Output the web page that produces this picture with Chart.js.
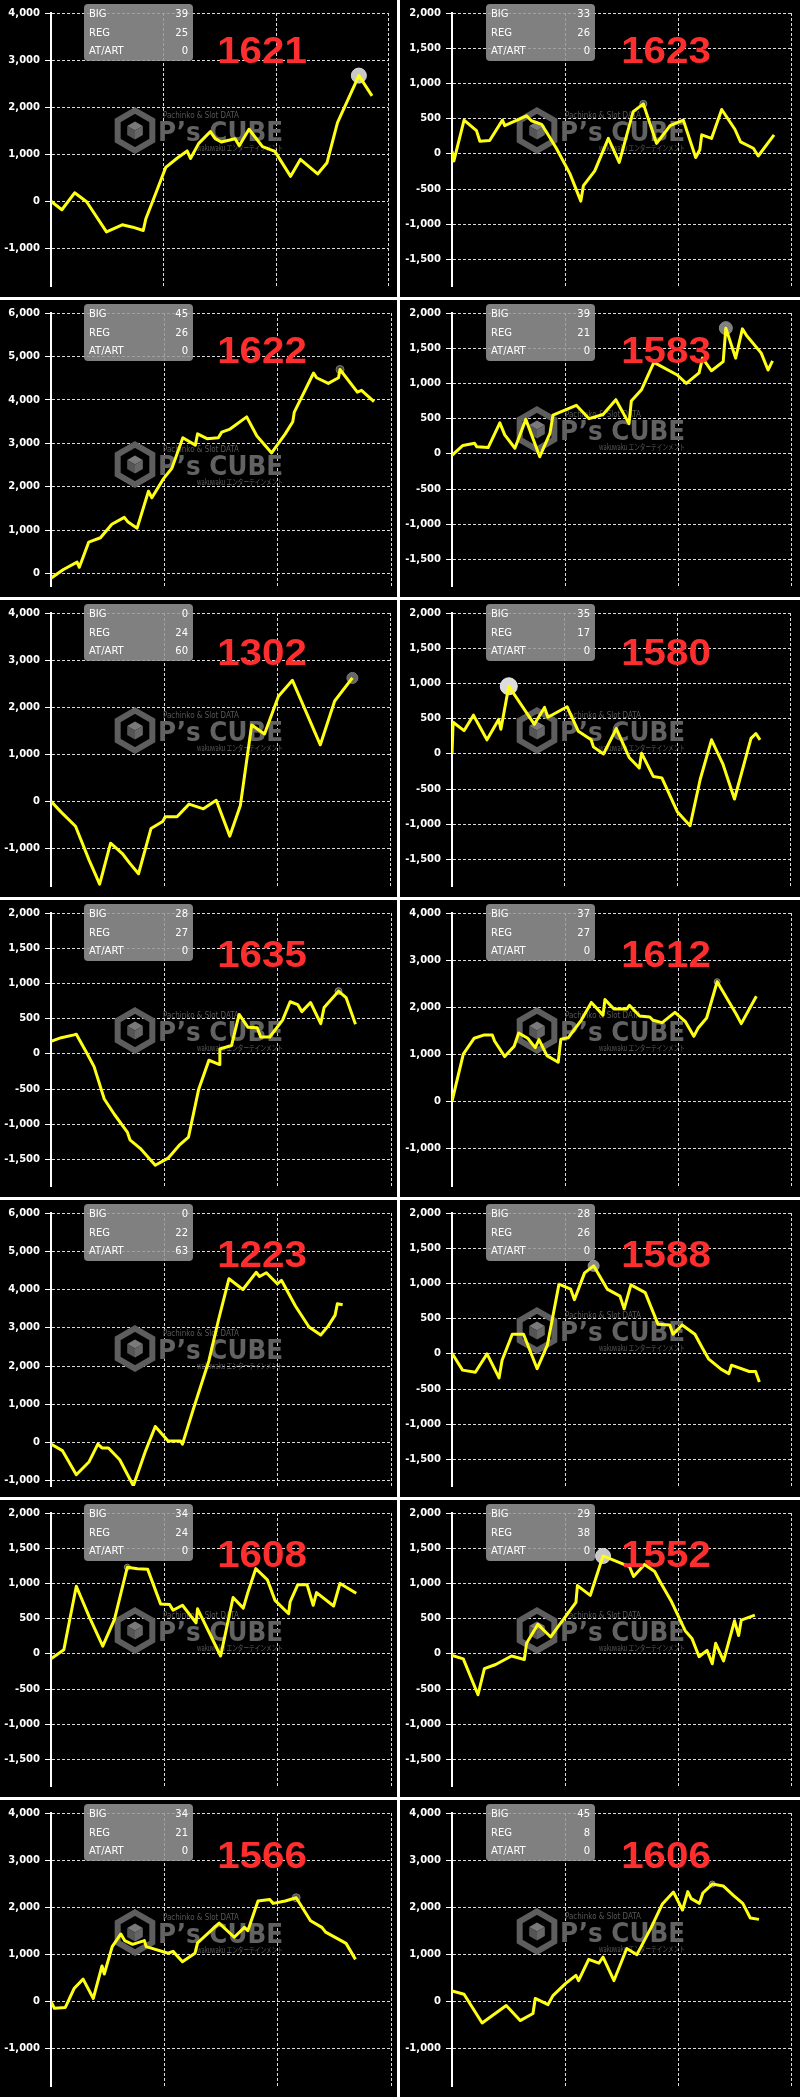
<!DOCTYPE html>
<html>
<head>
<meta charset="utf-8">
<script src="https://cdn.jsdelivr.net/npm/chart.js@4.4.1/dist/chart.umd.min.js"></script>
<style>
  html, body { margin: 0; padding: 0; background: #fff; }
  #grid {
    display: grid;
    grid-template-columns: 397px 400px;
    grid-auto-rows: 297px;
    column-gap: 3px;
    row-gap: 3px;
    width: 800px;
  }
  .cell { background: #000; position: relative; overflow: hidden; }
  canvas { display: block; }
</style>
</head>
<body>
<div id="grid"></div>
<script>
// machine numbers and bonus counts, left to right, top to bottom
const machineNos = ["1621", "1623", "1622", "1583", "1302", "1580", "1635", "1612", "1223", "1588", "1608", "1552", "1566", "1606"];
const bigCounts = [39, 33, 45, 39, 0, 35, 28, 37, 0, 28, 34, 29, 34, 45];
const regCounts = [25, 26, 26, 21, 24, 17, 27, 27, 22, 26, 24, 38, 21, 8];
const artCounts = [0, 0, 0, 0, 60, 0, 0, 0, 63, 0, 0, 0, 0, 0];

// y axis ranges and tick steps
const yMaxes = [4000, 2000, 6000, 2000, 4000, 2000, 2000, 4000, 6000, 2000, 2000, 2000, 4000, 4000];
const ySteps = [1000, 500, 1000, 500, 1000, 500, 500, 1000, 1000, 500, 500, 500, 1000, 1000];
const yMins = [-1800, -1875, -280, -1875, -1800, -1875, -1875, -1800, -1135, -1875, -1875, -1875, -1800, -1800];
const gameMax = 9000;
const gameStep = 3000;

// games played / coin difference per machine
const games1621 = [0, 290, 630, 950, 1480, 1900, 2180, 2460, 2530, 2800, 3060, 3370, 3630, 3720, 3940, 4250, 4380, 4540, 4910, 5020, 5280, 5640, 5970, 6390, 6650, 7110, 7360, 7640, 8210, 8560];
const diff1621 = [0, -180, 180, -10, -650, -500, -550, -620, -370, 180, 720, 920, 1070, 910, 1230, 1480, 1330, 1260, 1330, 1180, 1530, 1160, 1060, 530, 890, 580, 820, 1670, 2670, 2240];

const games1623 = [0, 50, 320, 650, 740, 1000, 1340, 1400, 1980, 2110, 2380, 2770, 3130, 3420, 3490, 3790, 4150, 4440, 4810, 5080, 5430, 5790, 6140, 6470, 6580, 6630, 6890, 7160, 7510, 7660, 8000, 8130, 8550];
const diff1623 = [40, -100, 480, 330, 180, 190, 480, 400, 540, 470, 420, 80, -280, -670, -450, -240, 220, -120, 600, 710, 150, 400, 480, -50, 60, 270, 220, 630, 350, 170, 80, -30, 270];

const games1622 = [0, 330, 690, 750, 1000, 1310, 1610, 1940, 2040, 2280, 2580, 2670, 2980, 3200, 3490, 3820, 3880, 4130, 4430, 4520, 4740, 5180, 5450, 5840, 6200, 6400, 6440, 6950, 7030, 7340, 7610, 7650, 8110, 8220, 8550];
const diff1622 = [-100, 100, 270, 150, 730, 830, 1140, 1300, 1190, 1050, 1900, 1750, 2190, 2430, 3130, 2960, 3220, 3110, 3130, 3260, 3330, 3610, 3170, 2780, 3220, 3500, 3720, 4620, 4510, 4380, 4510, 4700, 4180, 4220, 3960];

const games1583 = [0, 290, 600, 660, 960, 1270, 1400, 1670, 1960, 2330, 2600, 2680, 3300, 3640, 4010, 4350, 4700, 4760, 5030, 5360, 5980, 6220, 6560, 6650, 6890, 7200, 7270, 7530, 7710, 7820, 8210, 8390, 8510];
const diff1583 = [-20, 120, 150, 100, 90, 440, 270, 80, 490, -40, 290, 550, 690, 500, 560, 770, 430, 750, 910, 1300, 1120, 1000, 1150, 1360, 1180, 1310, 1785, 1360, 1775, 1680, 1430, 1190, 1320];

const games1302 = [0, 270, 650, 1010, 1290, 1580, 1890, 2090, 2320, 2650, 2960, 3030, 3340, 3660, 4040, 4380, 4740, 5020, 5320, 5660, 6030, 6400, 7140, 7520, 7990];
const diff1302 = [0, -230, -530, -1250, -1760, -890, -1110, -1320, -1540, -580, -430, -330, -330, -60, -160, 20, -740, -90, 1620, 1430, 2230, 2570, 1200, 2130, 2620];

const games1580 = [0, 30, 320, 570, 930, 1240, 1300, 1510, 2190, 2460, 2550, 3060, 3360, 3700, 3760, 4030, 4370, 4710, 4980, 5040, 5350, 5580, 5990, 6330, 6600, 6900, 7200, 7510, 7950, 8080, 8190];
const diff1580 = [0, 450, 330, 550, 200, 490, 350, 960, 420, 660, 520, 670, 320, 200, 100, 0, 360, -50, -200, 10, -320, -340, -820, -1020, -360, 200, -140, -640, 220, 290, 200];

const games1635 = [0, 270, 610, 670, 940, 1140, 1410, 1680, 2020, 2090, 2360, 2760, 3100, 3390, 3640, 3910, 4180, 4450, 4470, 4780, 4980, 5210, 5460, 5550, 5790, 6130, 6330, 6530, 6640, 6870, 7140, 7230, 7610, 7810, 8060];
const diff1635 = [180, 230, 270, 280, 20, -180, -640, -860, -1110, -1220, -1340, -1580, -1480, -1300, -1180, -500, -90, -150, 70, 120, 560, 380, 370, 240, 240, 480, 740, 700, 600, 730, 430, 660, 890, 800, 420];

const games1612 = [0, 300, 590, 860, 1070, 1130, 1400, 1650, 1770, 2010, 2210, 2310, 2520, 2820, 2890, 3090, 3430, 3700, 4010, 4060, 4300, 4640, 4710, 4980, 5250, 5340, 5580, 5920, 6190, 6420, 6530, 6760, 7040, 7540, 7680, 8080];
const diff1612 = [0, 1000, 1340, 1410, 1410, 1280, 950, 1170, 1450, 1340, 1140, 1310, 970, 830, 1320, 1350, 1720, 2100, 1830, 2160, 1960, 1960, 2040, 1810, 1790, 1720, 1670, 1890, 1700, 1380, 1550, 1770, 2540, 1860, 1650, 2230];

const games1223 = [0, 300, 670, 1010, 1240, 1350, 1520, 1820, 2180, 2490, 2760, 3100, 3430, 3480, 3770, 4180, 4440, 4710, 5080, 5430, 5520, 5700, 5990, 6100, 6470, 6830, 7140, 7340, 7520, 7580, 7720];
const diff1223 = [-40, -210, -840, -500, -40, -140, -140, -450, -1130, -250, 420, 40, 40, -40, 880, 2140, 3230, 4280, 4000, 4450, 4340, 4440, 4150, 4240, 3570, 3020, 2810, 3050, 3330, 3630, 3600];

const games1588 = [0, 280, 620, 930, 1250, 1330, 1600, 1900, 2260, 2530, 2840, 3150, 3250, 3520, 3760, 4120, 4460, 4570, 4750, 5130, 5470, 5780, 5870, 6110, 6450, 6650, 6810, 7150, 7350, 7420, 7890, 8060, 8160];
const diff1588 = [10, -230, -260, 0, -340, -90, 280, 280, -210, 120, 990, 920, 770, 1150, 1250, 920, 820, 640, 980, 870, 420, 410, 280, 410, 280, 80, -70, -220, -280, -160, -250, -250, -400];

const games1608 = [0, 340, 670, 1010, 1370, 1680, 2020, 2290, 2560, 2900, 3140, 3230, 3480, 3840, 3880, 4490, 4820, 5090, 5210, 5420, 5730, 5930, 6290, 6330, 6530, 6780, 6940, 7030, 7480, 7650, 8080];
const diff1608 = [-70, 60, 960, 530, 110, 490, 1230, 1210, 1200, 710, 700, 620, 690, 440, 640, -30, 800, 650, 870, 1210, 1050, 760, 570, 740, 980, 980, 690, 870, 680, 1000, 860];

const games1552 = [0, 300, 690, 860, 1160, 1580, 1920, 1980, 2280, 2620, 2890, 3290, 3330, 3670, 4010, 4710, 4820, 5110, 5380, 5540, 5830, 6190, 6370, 6560, 6770, 6910, 7000, 7210, 7500, 7610, 7680, 8040];
const diff1552 = [-20, -70, -580, -210, -150, -30, -80, 150, 420, 240, 440, 730, 970, 830, 1390, 1240, 1100, 1270, 1170, 1010, 740, 330, 220, -40, 50, -140, 150, -100, 470, 260, 480, 550];

const games1566 = [0, 90, 380, 610, 850, 1120, 1350, 1410, 1620, 1850, 1950, 2160, 2470, 2520, 3100, 3230, 3480, 3810, 3880, 4450, 4850, 5120, 5210, 5480, 5790, 5880, 6200, 6490, 6870, 7170, 7270, 7810, 8060];
const diff1566 = [0, -150, -130, 270, 470, 60, 750, 580, 1160, 1430, 1290, 1210, 1290, 1160, 1020, 1060, 840, 1020, 1240, 1660, 1360, 1570, 1500, 2130, 2160, 2080, 2130, 2200, 1710, 1570, 1470, 1230, 890];

const games1606 = [0, 320, 800, 1440, 1810, 2150, 2210, 2550, 2680, 3020, 3290, 3360, 3630, 3900, 4010, 4300, 4640, 4910, 5290, 5580, 5880, 6120, 6260, 6350, 6570, 6660, 6910, 7200, 7470, 7720, 7920, 8150];
const diff1606 = [220, 150, -460, -90, -410, -260, 60, -70, 120, 380, 550, 440, 890, 810, 940, 440, 1120, 990, 1570, 2060, 2320, 1940, 2330, 2180, 2080, 2300, 2490, 2450, 2250, 2080, 1770, 1740];

const gamesSeries = [games1621, games1623, games1622, games1583, games1302, games1580, games1635, games1612, games1223, games1588, games1608, games1552, games1566, games1606];
const diffSeries = [diff1621, diff1623, diff1622, diff1583, diff1302, diff1580, diff1635, diff1612, diff1223, diff1588, diff1608, diff1552, diff1566, diff1606];

// look of the peak marker per panel
const peakStyles = [
  { r: 7.5, fill: "#c8c8c8", edge: "#d8d8d8" },
  { r: 3.5, fill: "#444", edge: "#888" },
  { r: 4, fill: "#444", edge: "#777" },
  { r: 6.5, fill: "#808080", edge: "#8a8a8a" },
  { r: 5.5, fill: "#666", edge: "#777" },
  { r: 8.5, fill: "#dcdcdc", edge: "#e8e8e8" },
  { r: 3.5, fill: "#444", edge: "#888" },
  { r: 3, fill: "#444", edge: "#888" },
  { r: 0, fill: "#444", edge: "#888" },
  { r: 5.5, fill: "#888", edge: "#999" },
  { r: 3, fill: "#444", edge: "#888" },
  { r: 7.5, fill: "#c8c8c8", edge: "#d8d8d8" },
  { r: 4, fill: "#555", edge: "#777" },
  { r: 3, fill: "#444", edge: "#888" }
];
const watermarkTops = [108, 108, 142, 107, 108, 108, 108, 108, 126, 108, 108, 108, 110, 109];
const titleBaselines = [63, 63, 63, 63, 65, 65, 67, 67, 67, 67, 67, 67, 68, 68];

function yTickValues(i) {
  const values = [];
  for (let v = yMaxes[i]; v > yMins[i]; v -= ySteps[i]) values.push({ value: v });
  return values.reverse();
}

function drawWatermark(ctx, dx, top) {
  const cx = 135 + dx;
  const cy = top + 22.5;
  const r = 20;
  ctx.save();
  ctx.strokeStyle = "#5e5e5e";
  ctx.lineWidth = 6;
  ctx.beginPath();
  for (let k = 0; k < 6; k++) {
    const a = Math.PI / 3 * k - Math.PI / 2;
    const px = cx + r * Math.cos(a);
    const py = cy + r * Math.sin(a);
    if (k === 0) ctx.moveTo(px, py); else ctx.lineTo(px, py);
  }
  ctx.closePath();
  ctx.stroke();

  // little cube in the middle
  const s = 9;
  const w = s * 0.87;
  ctx.fillStyle = "#7a7a7a";
  ctx.beginPath();
  ctx.moveTo(cx, cy - s); ctx.lineTo(cx + w, cy - s / 2); ctx.lineTo(cx, cy); ctx.lineTo(cx - w, cy - s / 2);
  ctx.closePath(); ctx.fill();
  ctx.fillStyle = "#555";
  ctx.beginPath();
  ctx.moveTo(cx - w, cy - s / 2); ctx.lineTo(cx, cy); ctx.lineTo(cx, cy + s); ctx.lineTo(cx - w, cy + s / 2);
  ctx.closePath(); ctx.fill();
  ctx.fillStyle = "#666";
  ctx.beginPath();
  ctx.moveTo(cx + w, cy - s / 2); ctx.lineTo(cx, cy); ctx.lineTo(cx, cy + s); ctx.lineTo(cx + w, cy + s / 2);
  ctx.closePath(); ctx.fill();

  ctx.textAlign = "left";
  ctx.textBaseline = "alphabetic";
  ctx.fillStyle = "#626262";
  ctx.font = "bold 27px 'DejaVu Sans'";
  ctx.fillText("P\u2019s CUBE", 158 + dx, top + 33, 125);
  ctx.fillStyle = "#585858";
  ctx.font = "8px 'DejaVu Sans'";
  ctx.fillText("Pachinko & Slot DATA", 163 + dx, top + 10, 76);
  ctx.font = "8px 'Noto Sans CJK JP'";
  ctx.fillText("wakuwaku エンターテインメント", 197 + dx, top + 43, 86);
  ctx.restore();
}

function drawStats(ctx, dx, i) {
  ctx.save();
  ctx.fillStyle = "rgba(150,150,150,0.85)";
  ctx.beginPath();
  ctx.roundRect(84 + dx, 4, 109, 57, 4);
  ctx.fill();
  ctx.fillStyle = "#fff";
  ctx.font = "10px 'DejaVu Sans'";
  ctx.textBaseline = "middle";
  const rows = [["BIG", bigCounts[i]], ["REG", regCounts[i]], ["AT/ART", artCounts[i]]];
  const ys = [14, 33, 51];
  rows.forEach((row, k) => {
    ctx.textAlign = "left";
    ctx.fillText(row[0], 89 + dx, ys[k]);
    ctx.textAlign = "right";
    ctx.fillText(String(row[1]), 188 + dx, ys[k]);
  });
  ctx.restore();
}

function drawTitle(ctx, dx, i) {
  ctx.save();
  ctx.fillStyle = "#ff2e2e";
  ctx.font = "bold 36px 'Liberation Sans'";
  ctx.textAlign = "center";
  ctx.textBaseline = "alphabetic";
  ctx.translate(262 + dx * 2, titleBaselines[i]);
  ctx.scale(1.12, 1);
  ctx.fillText(machineNos[i], 0, 0);
  ctx.restore();
}

const panelPlugin = {
  id: "panel",
  beforeDraw(chart) {
    const ctx = chart.ctx;
    ctx.save();
    ctx.fillStyle = "#000";
    ctx.fillRect(0, 0, chart.width, chart.height);
    ctx.restore();
  },
  beforeDatasetsDraw(chart, args, opts) {
    drawWatermark(chart.ctx, opts.dx, watermarkTops[opts.index]);
  },
  afterDraw(chart, args, opts) {
    drawStats(chart.ctx, opts.dx, opts.index);
    drawTitle(chart.ctx, opts.dx, opts.index);
  }
};

function makePanel(i) {
  const col = i % 2;
  const dx = col ? 2 : 0;
  const cell = document.createElement("div");
  cell.className = "cell";
  const canvas = document.createElement("canvas");
  canvas.width = col ? 400 : 397;
  canvas.height = 297;
  cell.appendChild(canvas);
  document.getElementById("grid").appendChild(cell);

  const games = gamesSeries[i];
  const diffs = diffSeries[i];
  const points = games.map((g, k) => ({ x: g, y: diffs[k] }));
  const peak = diffs.indexOf(Math.max(...diffs));
  const mark = peakStyles[i];

  new Chart(canvas, {
    type: "line",
    data: {
      datasets: [
        {
          data: points,
          borderColor: "#ffff14",
          borderWidth: 3,
          borderJoinStyle: "round",
          pointRadius: 0,
          tension: 0,
          order: 1
        },
        {
          data: [points[peak]],
          showLine: false,
          pointRadius: mark.r,
          pointBackgroundColor: mark.fill,
          pointBorderColor: mark.edge,
          pointBorderWidth: 1,
          order: 2
        }
      ]
    },
    options: {
      responsive: false,
      animation: false,
      devicePixelRatio: 1,
      events: [],
      layout: { padding: { top: 13, right: col ? 9 : 6, bottom: 0, left: 0 } },
      plugins: {
        legend: { display: false },
        tooltip: { enabled: false },
        panel: { index: i, dx: dx }
      },
      scales: {
        x: {
          type: "linear",
          min: 0,
          max: gameMax,
          ticks: { display: false, stepSize: gameStep },
          grid: {
            color: c => (c.tick && c.tick.value === 0 ? "rgba(0,0,0,0)" : "#dcdcdc"),
            lineWidth: 1,
            drawTicks: false
          },
          border: { display: false, dash: [3, 2] }
        },
        y: {
          type: "linear",
          min: yMins[i],
          max: yMaxes[i],
          afterBuildTicks: scale => { scale.ticks = yTickValues(i); },
          afterFit: scale => { scale.width = col ? 52 : 51; },
          ticks: {
            color: "#fff",
            padding: 5,
            font: { family: "DejaVu Sans", size: 10, weight: "bold" },
            callback: v => v.toLocaleString("en-US")
          },
          grid: {
            color: "#dcdcdc",
            lineWidth: 1,
            tickLength: 6,
            tickColor: "#fff",
            tickBorderDash: []
          },
          border: { display: true, color: "#fff", width: 2, dash: [3, 2] }
        }
      }
    },
    plugins: [panelPlugin]
  });
}

machineNos.forEach((no, i) => makePanel(i));
</script>
</body>
</html>
